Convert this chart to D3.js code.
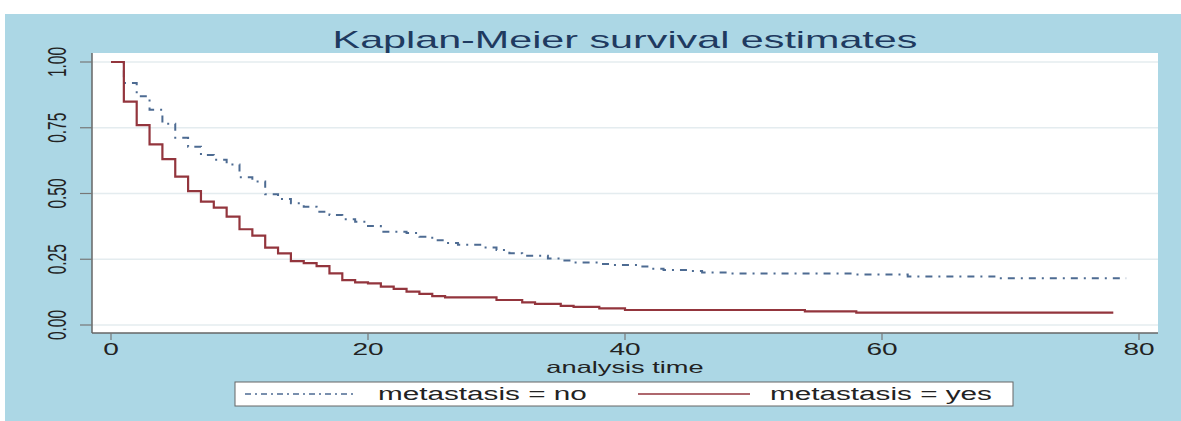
<!DOCTYPE html>
<html>
<head>
  <meta charset="utf-8">
  <title>Kaplan-Meier survival estimates</title>
  <script src="https://d3js.org/d3.v7.min.js"></script>
  <style>
    body { margin: 0; background: #fff; }
    text { font-family: "Liberation Sans", Arial, sans-serif; }
    .grid { stroke: #e4ecef; stroke-width: 1.5px; }
    .axis-line { stroke: #666; stroke-width: 1.5px; }
  </style>
</head>
<body>
  <svg width="1181" height="421"></svg>
  <script>
    // survival steps
    const timeNo = [0, 1, 2, 3, 4, 5, 6, 7, 8, 9, 10, 11, 12, 13, 14, 15, 16, 17, 18, 19, 20, 21, 23, 24, 25, 26, 27, 29, 30, 31, 32, 34, 35, 36, 38, 39, 41, 42, 43, 45, 46, 48, 58, 62, 69, 79];
    const survNo = [1, 0.92, 0.87, 0.818, 0.765, 0.712, 0.678, 0.646, 0.628, 0.61, 0.562, 0.546, 0.497, 0.479, 0.463, 0.45, 0.431, 0.418, 0.402, 0.393, 0.376, 0.355, 0.35, 0.336, 0.322, 0.312, 0.305, 0.295, 0.285, 0.273, 0.263, 0.253, 0.245, 0.238, 0.232, 0.228, 0.222, 0.214, 0.209, 0.205, 0.2, 0.196, 0.192, 0.184, 0.178, 0.178];

    const timeYes = [0, 1, 2, 3, 4, 5, 6, 7, 8, 9, 10, 11, 12, 13, 14, 15, 16, 17, 18, 19, 20, 21, 22, 23, 24, 25, 26, 30, 32, 33, 35, 36, 38, 40, 54, 58, 78];
    const survYes = [1, 0.849, 0.76, 0.687, 0.631, 0.564, 0.509, 0.469, 0.446, 0.412, 0.364, 0.34, 0.294, 0.272, 0.243, 0.235, 0.224, 0.196, 0.171, 0.162, 0.158, 0.146, 0.137, 0.127, 0.118, 0.11, 0.105, 0.095, 0.086, 0.08, 0.073, 0.069, 0.063, 0.057, 0.052, 0.047, 0.047];

    const xTicks = [0, 20, 40, 60, 80];
    const yTicks = [0, 0.25, 0.5, 0.75, 1];
    const yTickLabels = ["0.00", "0.25", "0.50", "0.75", "1.00"];
    const seriesNames = ["metastasis = no", "metastasis = yes"];

    const svg = d3.select("svg");
    const sx = 1.65; // the source picture is stretched sideways

    // outer background
    svg.append("rect").attr("x", 5).attr("y", 14).attr("width", 1176).attr("height", 407)
      .attr("fill", "#acd7e5");

    // plot region
    const plot = { left: 92, top: 53, right: 1158, bottom: 333 };
    svg.append("rect").attr("x", plot.left).attr("y", plot.top)
      .attr("width", plot.right - plot.left).attr("height", plot.bottom - plot.top)
      .attr("fill", "#fff");

    const x = d3.scaleLinear().domain([0, 80]).range([111, 1139]);
    const y = d3.scaleLinear().domain([0, 1]).range([325, 62]);

    // gridlines
    svg.selectAll(".grid").data(yTicks).enter().append("line")
      .attr("class", "grid")
      .attr("x1", plot.left).attr("x2", plot.right)
      .attr("y1", d => y(d)).attr("y2", d => y(d));

    // axes lines
    svg.append("line").attr("class", "axis-line")
      .attr("x1", plot.left).attr("x2", plot.left).attr("y1", plot.top).attr("y2", plot.bottom);
    svg.append("line").attr("class", "axis-line").attr("stroke", "#888")
      .attr("x1", plot.left).attr("x2", plot.right).attr("y1", plot.bottom).attr("y2", plot.bottom);

    // y ticks + labels (rotated)
    svg.selectAll(".ytick").data(yTicks).enter().append("line")
      .attr("x1", 80).attr("x2", plot.left)
      .attr("y1", d => y(d)).attr("y2", d => y(d))
      .attr("stroke", "#777").attr("stroke-width", 1.2);
    svg.selectAll(".ylab").data(yTicks).enter().append("text")
      .attr("transform", d => `translate(66,${y(d)}) scale(${sx},1) rotate(-90)`)
      .attr("text-anchor", "middle")
      .attr("font-size", 15.5)
      .attr("fill", "#222")
      .text((d, i) => yTickLabels[i]);

    // x ticks + labels
    svg.selectAll(".xtick").data(xTicks).enter().append("line")
      .attr("x1", d => x(d)).attr("x2", d => x(d))
      .attr("y1", plot.bottom).attr("y2", plot.bottom + 7)
      .attr("stroke", "#777").attr("stroke-width", 1.2);
    svg.selectAll(".xlab").data(xTicks).enter().append("text")
      .attr("transform", d => `translate(${x(d)},355) scale(${sx},1)`)
      .attr("text-anchor", "middle")
      .attr("font-size", 17)
      .attr("fill", "#222")
      .text(d => d);

    svg.append("text")
      .attr("transform", `translate(625,373) scale(${sx},1)`)
      .attr("text-anchor", "middle")
      .attr("font-size", 16.5)
      .attr("fill", "#222")
      .text("analysis time");

    // title
    svg.append("text")
      .attr("transform", `translate(625,48) scale(1.72,1)`)
      .attr("text-anchor", "middle")
      .attr("font-size", 24)
      .attr("fill", "#1f3a60")
      .text("Kaplan-Meier survival estimates");

    // survival curves
    const line = d3.line().curve(d3.curveStepAfter)
      .x(d => x(d[0])).y(d => y(d[1]));

    svg.append("path")
      .datum(timeNo.map((t, i) => [t, survNo[i]]))
      .attr("d", line)
      .attr("fill", "none")
      .attr("stroke", "#4d6b92")
      .attr("stroke-width", 2)
      .attr("stroke-dasharray", "7,6,2,6");

    svg.append("path")
      .datum(timeYes.map((t, i) => [t, survYes[i]]))
      .attr("d", line)
      .attr("fill", "none")
      .attr("stroke", "#93353d")
      .attr("stroke-width", 2.2);

    // legend
    svg.append("rect").attr("x", 235).attr("y", 382).attr("width", 778).attr("height", 24)
      .attr("fill", "#fff").attr("stroke", "#666").attr("stroke-width", 1);

    svg.append("line").attr("x1", 245).attr("x2", 355).attr("y1", 394).attr("y2", 394)
      .attr("stroke", "#4d6b92").attr("stroke-width", 1.5).attr("stroke-dasharray", "6,4,2,4");
    svg.append("line").attr("x1", 638).attr("x2", 750).attr("y1", 394).attr("y2", 394)
      .attr("stroke", "#93353d").attr("stroke-width", 1.5);

    svg.append("text").attr("transform", `translate(378,400) scale(${sx},1)`)
      .attr("font-size", 18).attr("fill", "#222").text(seriesNames[0]);
    svg.append("text").attr("transform", `translate(770,400) scale(${sx},1)`)
      .attr("font-size", 18).attr("fill", "#222").text(seriesNames[1]);
  </script>
</body>
</html>
